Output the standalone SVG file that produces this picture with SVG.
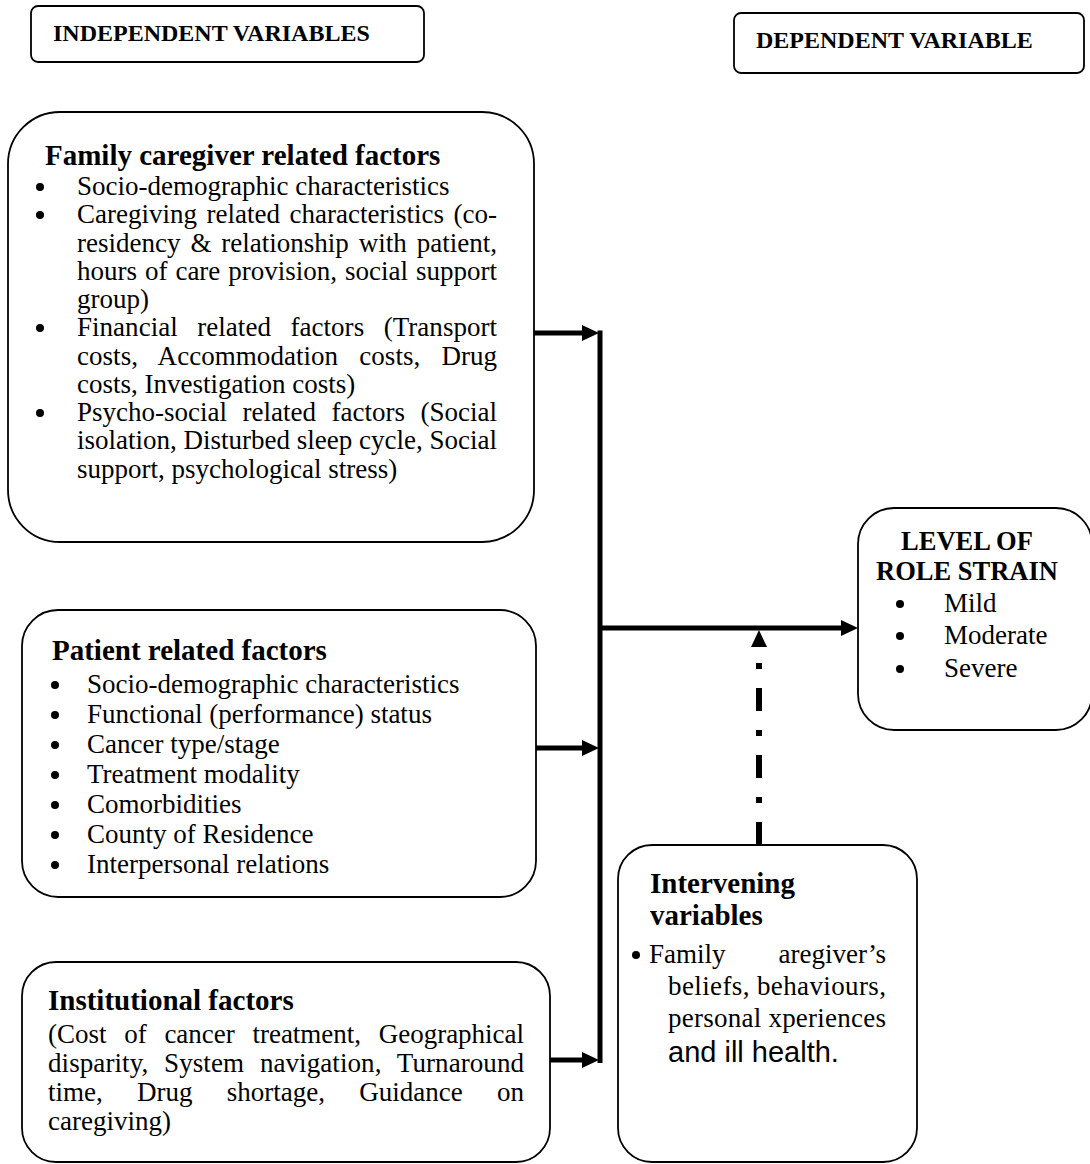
<svg xmlns="http://www.w3.org/2000/svg" width="1090" height="1164" viewBox="0 0 1090 1164">
<style>
.box{fill:#fff;stroke:#000;stroke-width:1.8}
.hd{font-family:"Liberation Serif","Times New Roman",serif;font-weight:bold;font-size:24px}
.tt{font-family:"Liberation Serif","Times New Roman",serif;font-weight:bold;font-size:29px}
.rt{font-family:"Liberation Serif","Times New Roman",serif;font-weight:bold;font-size:26.5px}
.t{font-family:"Liberation Serif","Times New Roman",serif;font-size:27px}
.s{font-family:"Liberation Sans",Arial,sans-serif;font-size:29px}
.b{fill:#000}
.ln{stroke:#000;stroke-width:5;fill:none}
.ah{fill:#000}
</style>
<rect width="1090" height="1164" fill="#fff"/>
<g id="hdr-indep"><rect class="box" x="31" y="6" width="393" height="56" rx="7"/><text class="hd" x="53" y="41">INDEPENDENT VARIABLES</text></g>
<g id="hdr-dep"><rect class="box" x="734" y="13" width="350" height="60" rx="7"/><text class="hd" x="756" y="48">DEPENDENT VARIABLE</text></g>
<g id="family"><rect class="box" x="8" y="112" width="526" height="430" rx="52"/>
<text class="tt" x="45" y="165">Family caregiver related factors</text>
<g class="b"><circle cx="40" cy="187" r="4"/><circle cx="40" cy="215" r="4"/><circle cx="40" cy="328" r="4"/><circle cx="40" cy="413" r="4"/></g>
<text class="t" x="77" y="195">Socio-demographic characteristics</text>
<text class="t" x="77" y="223" word-spacing="2.8" textLength="420" lengthAdjust="spacing">Caregiving related characteristics (co-</text>
<text class="t" x="77" y="252" word-spacing="3.2" textLength="420" lengthAdjust="spacing">residency &amp; relationship with patient,</text>
<text class="t" x="77" y="280" word-spacing="1.2" textLength="420" lengthAdjust="spacing">hours of care provision, social support</text>
<text class="t" x="77" y="308">group)</text>
<text class="t" x="77" y="336" word-spacing="12.8" textLength="420" lengthAdjust="spacing">Financial related factors (Transport</text>
<text class="t" x="77" y="365" word-spacing="14.3" textLength="420" lengthAdjust="spacing">costs, Accommodation costs, Drug</text>
<text class="t" x="77" y="393">costs, Investigation costs)</text>
<text class="t" x="77" y="421" word-spacing="8.8" textLength="420" lengthAdjust="spacing">Psycho-social related factors (Social</text>
<text class="t" x="77" y="449" textLength="420" lengthAdjust="spacing">isolation, Disturbed sleep cycle, Social</text>
<text class="t" x="77" y="478">support, psychological stress)</text>
</g>
<g id="patient"><rect class="box" x="22" y="610" width="514" height="287" rx="36"/>
<text class="tt" x="52" y="660">Patient related factors</text>
<g class="b"><circle cx="55" cy="685" r="4"/><circle cx="55" cy="715" r="4"/><circle cx="55" cy="745" r="4"/><circle cx="55" cy="775" r="4"/><circle cx="55" cy="805" r="4"/><circle cx="55" cy="835" r="4"/><circle cx="55" cy="865" r="4"/></g>
<text class="t" x="87" y="693">Socio-demographic characteristics</text>
<text class="t" x="87" y="723">Functional (performance) status</text>
<text class="t" x="87" y="753">Cancer type/stage</text>
<text class="t" x="87" y="783">Treatment modality</text>
<text class="t" x="87" y="813">Comorbidities</text>
<text class="t" x="87" y="843">County of Residence</text>
<text class="t" x="87" y="873">Interpersonal relations</text>
</g>
<g id="institutional"><rect class="box" x="22" y="962" width="528" height="200" rx="34"/>
<text class="tt" x="48" y="1010">Institutional factors</text>
<text class="t" x="48" y="1043" word-spacing="11" textLength="476" lengthAdjust="spacing">(Cost of cancer treatment, Geographical</text>
<text class="t" x="48" y="1072" word-spacing="9" textLength="476" lengthAdjust="spacing">disparity, System navigation, Turnaround</text>
<text class="t" x="48" y="1101" word-spacing="27.5" textLength="476" lengthAdjust="spacing">time, Drug shortage, Guidance on</text>
<text class="t" x="48" y="1130">caregiving)</text>
</g>
<g id="intervening"><rect class="box" x="618" y="845" width="299" height="317" rx="34"/>
<text class="tt" x="650" y="893">Intervening</text><text class="tt" x="650" y="925">variables</text>
<circle class="b" cx="636" cy="955" r="4"/>
<text class="t" x="649" y="963">Family</text><text class="t" x="886" y="963" text-anchor="end">aregiver’s</text>
<text class="t" x="668" y="995" textLength="218" lengthAdjust="spacing">beliefs, behaviours,</text>
<text class="t" x="668" y="1027" textLength="218" lengthAdjust="spacing">personal xperiences</text>
<text class="s" x="668" y="1062">and ill health.</text>
</g>
<g id="rolestrain"><rect class="box" x="858" y="508" width="234" height="222" rx="36"/>
<text class="rt" x="967" y="550" text-anchor="middle">LEVEL OF</text><text class="rt" x="967" y="580" text-anchor="middle">ROLE STRAIN</text>
<g class="b"><circle cx="900" cy="604" r="4"/><circle cx="900" cy="636" r="4"/><circle cx="900" cy="669" r="4"/></g>
<text class="t" x="944" y="612">Mild</text><text class="t" x="944" y="644">Moderate</text><text class="t" x="944" y="677">Severe</text>
</g>
<g id="connectors">
<path class="ln" d="M600,330.5V1063"/>
<path class="ln" d="M534,333H584"/><path class="ah" d="M582,325L599,333L582,341z"/>
<path class="ln" d="M536,748H584"/><path class="ah" d="M582,740L599,748L582,756z"/>
<path class="ln" d="M550,1060H584"/><path class="ah" d="M582,1052L599,1060L582,1068z"/>
<path class="ln" d="M600,628H844"/><path class="ah" d="M841,620L858,628L841,636z"/>
<path d="M759,845V647" stroke="#000" stroke-width="6" stroke-dasharray="23 19 6 19" fill="none"/>
<path class="ah" d="M759,630L751,647H767z"/>
</g>
</svg>
